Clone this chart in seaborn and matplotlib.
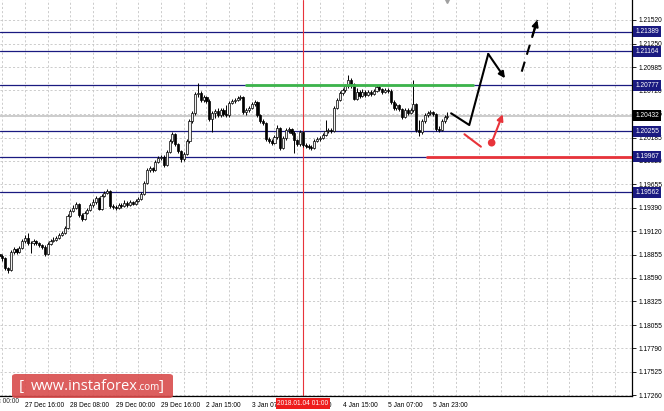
import numpy as np
import pandas as pd
import matplotlib
matplotlib.use("Agg")
import matplotlib.pyplot as plt
import seaborn as sns
from matplotlib.patches import FancyBboxPatch

# EURUSD H1 candles (bar 0 is the leftmost, half cut off)
first_open = 1.18862
closes = [1.18839,
    1.18816, 1.18703, 1.18680, 1.18884, 1.18918, 1.18884, 1.18930, 1.19009, 1.19043, 1.18987,
    1.18987, 1.19009, 1.18987, 1.18964, 1.18941, 1.18862, 1.18975, 1.19009, 1.19021, 1.19043,
    1.19077, 1.19100, 1.19157, 1.19293, 1.19350, 1.19384, 1.19430, 1.19305, 1.19259, 1.19327,
    1.19362, 1.19418, 1.19452, 1.19498, 1.19373, 1.19521, 1.19555, 1.19577, 1.19407, 1.19396,
    1.19384, 1.19418, 1.19407, 1.19441, 1.19418, 1.19452, 1.19430, 1.19464, 1.19487, 1.19543,
    1.19668, 1.19816, 1.19839, 1.19816, 1.19907, 1.19952, 1.19964, 1.19873, 1.20020, 1.20145,
    1.20225, 1.20111, 1.20032, 1.19941, 1.19998, 1.20145, 1.20373, 1.20464, 1.20679, 1.20691,
    1.20611, 1.20645, 1.20600, 1.20395, 1.20464, 1.20486, 1.20441, 1.20498, 1.20452, 1.20441,
    1.20577, 1.20600, 1.20611, 1.20634, 1.20645, 1.20475, 1.20498, 1.20520, 1.20566, 1.20588,
    1.20441, 1.20373, 1.20350, 1.20168, 1.20145, 1.20123, 1.20191, 1.20293, 1.20066, 1.20180,
    1.20270, 1.20282, 1.20236, 1.20157, 1.20111, 1.20248, 1.20100, 1.20089, 1.20077, 1.20066,
    1.20145, 1.20168, 1.20180, 1.20214, 1.20259, 1.20270, 1.20259, 1.20520, 1.20611, 1.20691,
    1.20725, 1.20770, 1.20838, 1.20793, 1.20623, 1.20702, 1.20657, 1.20702, 1.20668, 1.20702,
    1.20679, 1.20713, 1.20759, 1.20736, 1.20702, 1.20725, 1.20713, 1.20588, 1.20520, 1.20554,
    1.20509, 1.20418, 1.20498, 1.20464, 1.20498, 1.20566, 1.20270, 1.20248, 1.20373, 1.20441,
    1.20464, 1.20475, 1.20452, 1.20282, 1.20270, 1.20373, 1.20418, 1.20432]
highs = [1.18884,
    1.18862, 1.18828, 1.18714, 1.18907, 1.18941, 1.18930, 1.18953, 1.19032, 1.19077, 1.19100,
    1.19009, 1.19032, 1.19021, 1.18998, 1.18975, 1.18964, 1.18998, 1.19032, 1.19055, 1.19066,
    1.19100, 1.19123, 1.19180, 1.19316, 1.19373, 1.19418, 1.19452, 1.19441, 1.19327, 1.19350,
    1.19384, 1.19441, 1.19487, 1.19521, 1.19509, 1.19543, 1.19577, 1.19600, 1.19589, 1.19430,
    1.19418, 1.19441, 1.19441, 1.19475, 1.19464, 1.19475, 1.19464, 1.19487, 1.19509, 1.19566,
    1.19691, 1.19839, 1.19862, 1.19850, 1.19930, 1.19975, 1.19986, 1.19986, 1.20043, 1.20168,
    1.20248, 1.20236, 1.20123, 1.20043, 1.20020, 1.20168, 1.20395, 1.20486, 1.20702, 1.20804,
    1.20713, 1.20668, 1.20657, 1.20623, 1.20486, 1.20509, 1.20520, 1.20520, 1.20520, 1.20554,
    1.20600, 1.20623, 1.20634, 1.20657, 1.20668, 1.20657, 1.20520, 1.20543, 1.20588, 1.20611,
    1.20600, 1.20452, 1.20395, 1.20361, 1.20191, 1.20168, 1.20214, 1.20327, 1.20305, 1.20202,
    1.20293, 1.20305, 1.20293, 1.20259, 1.20168, 1.20270, 1.20259, 1.20123, 1.20111, 1.20100,
    1.20168, 1.20191, 1.20202, 1.20236, 1.20384, 1.20293, 1.20293, 1.20543, 1.20634, 1.20713,
    1.20748, 1.20793, 1.20895, 1.20861, 1.20804, 1.20748, 1.20725, 1.20736, 1.20725, 1.20725,
    1.20725, 1.20736, 1.20782, 1.20782, 1.20748, 1.20748, 1.20748, 1.20736, 1.20611, 1.20577,
    1.20566, 1.20520, 1.20520, 1.20520, 1.20520, 1.20838, 1.20577, 1.20384, 1.20395, 1.20464,
    1.20486, 1.20498, 1.20486, 1.20464, 1.20316, 1.20395, 1.20441, 1.20475]
lows = [1.18816,
    1.18782, 1.18680, 1.18646, 1.18669, 1.18862, 1.18862, 1.18873, 1.18918, 1.18987, 1.18964,
    1.18873, 1.18964, 1.18964, 1.18941, 1.18918, 1.18839, 1.18850, 1.18964, 1.18998, 1.19009,
    1.19032, 1.19066, 1.19089, 1.19146, 1.19282, 1.19339, 1.19373, 1.19282, 1.19236, 1.19248,
    1.19316, 1.19350, 1.19396, 1.19430, 1.19362, 1.19362, 1.19509, 1.19543, 1.19384, 1.19373,
    1.19362, 1.19373, 1.19384, 1.19396, 1.19396, 1.19407, 1.19418, 1.19418, 1.19452, 1.19475,
    1.19532, 1.19657, 1.19793, 1.19793, 1.19805, 1.19896, 1.19930, 1.19850, 1.19862, 1.20009,
    1.20123, 1.20089, 1.20009, 1.19907, 1.19918, 1.19986, 1.20123, 1.20350, 1.20441, 1.20645,
    1.20588, 1.20588, 1.20577, 1.20373, 1.20248, 1.20407, 1.20418, 1.20418, 1.20429, 1.20418,
    1.20418, 1.20566, 1.20577, 1.20600, 1.20611, 1.20452, 1.20441, 1.20475, 1.20509, 1.20543,
    1.20418, 1.20350, 1.20327, 1.20145, 1.20123, 1.20100, 1.20111, 1.20168, 1.20043, 1.20055,
    1.20157, 1.20236, 1.20214, 1.20009, 1.20089, 1.20089, 1.20077, 1.20066, 1.20055, 1.20043,
    1.20055, 1.20134, 1.20145, 1.20168, 1.20202, 1.20236, 1.20236, 1.20248, 1.20509, 1.20600,
    1.20668, 1.20702, 1.20748, 1.20748, 1.20611, 1.20611, 1.20634, 1.20645, 1.20645, 1.20657,
    1.20657, 1.20668, 1.20702, 1.20713, 1.20679, 1.20691, 1.20691, 1.20566, 1.20498, 1.20498,
    1.20486, 1.20395, 1.20407, 1.20441, 1.20452, 1.20475, 1.20248, 1.20202, 1.20225, 1.20350,
    1.20418, 1.20441, 1.20429, 1.20259, 1.20248, 1.20259, 1.20350, 1.20395]

# horizontal levels (blue), current bid
levels = [1.21389, 1.21164, 1.20777, 1.20255, 1.19967, 1.19562]
bid = 1.20432
price_ticks = [1.21520, 1.21250, 1.20985, 1.20720, 1.20455, 1.20185, 1.19920, 1.19655,
               1.19390, 1.19120, 1.18855, 1.18590, 1.18325, 1.18055, 1.17790, 1.17525, 1.17260]
price_range = (1.17249, 1.21747)
bar_range = (0.18, 223.1)

# time axis
time_ticks = [-7, 9, 25, 41, 57, 73, 89, 105, 121, 137, 153]
time_labels = ["27 Dec 00:00", "27 Dec 16:00", "28 Dec 08:00", "29 Dec 00:00", "29 Dec 16:00",
               "2 Jan 15:00", "3 Jan 07:00", "3 Jan 23:00", "4 Jan 15:00", "5 Jan 07:00",
               "5 Jan 23:00"]
cursor_bar = 107
cursor_label = "2018.01.04 01:00"

# drawn resistance / support
green_x = [86.9, 167.0]
green_y = [1.20777, 1.20777]
red_x = [150.8, 223.1]
red_y = [1.19967, 1.19967]

# forecast scenarios
main_x = [159.3, 165.7, 172.4, 178.3]
main_y = [1.20460, 1.20327, 1.21134, 1.20858]
next_x = [184.2, 189.7]
next_y = [1.20933, 1.21520]
alt_x = [164.0, 169.8]
alt_y = [1.20222, 1.20081]
alt_arrow_x = [173.6, 177.5]
alt_arrow_y = [1.20126, 1.20449]

navy = "#1a1a80"
red = "#e8333a"
fs = 4.8

sns.set_style("white")
plt.rcParams["font.family"] = ["Liberation Sans", "DejaVu Sans"]

fig = plt.figure(figsize=(6.64, 4.11), dpi=100)
ax = fig.add_axes([0, 15 / 411, 632 / 664, 396 / 411])
ax.set_xlim(*bar_range)
ax.set_ylim(*price_range)

df = pd.DataFrame({"close": closes, "high": highs, "low": lows})
df["open"] = df["close"].shift(1).fillna(first_open)
df["bar"] = np.arange(len(df))
up = df["close"] >= df["open"]

# grid
for p in price_ticks:
    ax.axhline(p, color="#c4c4c4", lw=0.6, dashes=(2.5, 2.5), zorder=0)
for b in np.arange(1, 224, 8):
    ax.axvline(b, color="#c4c4c4", lw=0.6, dashes=(2.5, 2.5), zorder=0)

for lv in levels:
    ax.axhline(lv, color=navy, lw=0.9, zorder=1)
ax.axhline(bid, color="#c8c8c8", lw=1.3, zorder=1)
ax.axvline(cursor_bar, color=red, lw=0.8, zorder=2)

# candles
ax.vlines(df["bar"], df["low"], df["high"], color="black", lw=0.7, zorder=3)
ax.bar(df["bar"][up], (df["close"] - df["open"])[up], bottom=df["open"][up], width=0.75,
       color="#f0f0f0", edgecolor="black", lw=0.5, zorder=4)
ax.bar(df["bar"][~up], (df["close"] - df["open"])[~up], bottom=df["open"][~up], width=0.75,
       color="black", edgecolor="black", lw=0.5, zorder=4)

# levels drawn by the analyst
sns.lineplot(x=green_x, y=green_y, color="#3cb44b", lw=2.0, ax=ax, zorder=5)
sns.lineplot(x=red_x, y=red_y, color=red, lw=2.0, ax=ax, zorder=5)

# main scenario
sns.lineplot(x=main_x[:3], y=main_y[:3], color="black", lw=1.5, ax=ax, sort=False, zorder=6)
ax.annotate("", xy=(main_x[3], main_y[3]), xytext=(main_x[2], main_y[2]),
            arrowprops=dict(arrowstyle="-|>", color="black", lw=1.5, mutation_scale=9,
                            shrinkA=0, shrinkB=0), zorder=6)
sns.lineplot(x=next_x, y=next_y, color="black", lw=1.5, ax=ax, zorder=6)
ax.lines[-1].set_dashes((5, 3.5))
hx = next_x[1] - 0.3 * (next_x[1] - next_x[0])
hy = next_y[1] - 0.3 * (next_y[1] - next_y[0])
ax.annotate("", xy=(next_x[1], next_y[1]), xytext=(hx, hy),
            arrowprops=dict(arrowstyle="-|>", color="black", lw=1.5, mutation_scale=9,
                            shrinkA=0, shrinkB=0), zorder=6)

# alternative scenario
sns.lineplot(x=alt_x, y=alt_y, color=red, lw=1.5, ax=ax, zorder=6)
sns.scatterplot(x=alt_arrow_x[:1], y=alt_arrow_y[:1], color=red, s=30, edgecolor="none",
                ax=ax, zorder=7)
ax.annotate("", xy=(alt_arrow_x[1], alt_arrow_y[1]), xytext=(alt_arrow_x[0], alt_arrow_y[0]),
            arrowprops=dict(arrowstyle="-|>", color=red, lw=1.5, mutation_scale=9,
                            shrinkA=0, shrinkB=0), zorder=6)

# chart shift marker
ax.plot([df["bar"].iloc[-1]], [price_range[1]], marker="v", color="#a0a0a0", ms=4,
        clip_on=False, zorder=8)

# axes
for s in ["top", "left"]:
    ax.spines[s].set_visible(False)
for s in ["right", "bottom"]:
    ax.spines[s].set_color("black")
    ax.spines[s].set_linewidth(0.9)
ax.yaxis.tick_right()
ax.set_yticks(price_ticks)
ax.set_yticklabels([f"{p:.5f}" for p in price_ticks])
ax.tick_params(axis="y", length=3, width=0.6, pad=1.5, labelsize=fs, colors="black")
ax.set_xticks(time_ticks[1:])
ax.set_xticklabels(time_labels[1:], ha="left")
ax.tick_params(axis="x", length=3, width=0.6, pad=1.5, labelsize=fs, colors="black")
ax.text(time_ticks[0], -0.006, time_labels[0], transform=ax.get_xaxis_transform(),
        ha="left", va="top", fontsize=fs, clip_on=False)

# price labels on the right
for lv in levels:
    ax.annotate(f"{lv:.5f}", xy=(1, lv), xycoords=ax.get_yaxis_transform(),
                xytext=(2.5, 0), textcoords="offset points", ha="left", va="center",
                color="white", fontsize=fs, annotation_clip=False, zorder=10,
                bbox=dict(boxstyle="square,pad=0.3", fc=navy, ec="none"))
ax.annotate(f"{bid:.5f}", xy=(1, bid), xycoords=ax.get_yaxis_transform(),
            xytext=(2.5, 0), textcoords="offset points", ha="left", va="center",
            color="white", fontsize=fs, annotation_clip=False, zorder=10,
            bbox=dict(boxstyle="square,pad=0.3", fc="black", ec="none"))

# cursor time label
ax.annotate(cursor_label, xy=(cursor_bar, 0), xycoords=ax.get_xaxis_transform(),
            xytext=(0, -5.3), textcoords="offset points", ha="center", va="center",
            color="white", fontsize=fs, annotation_clip=False, zorder=10,
            bbox=dict(boxstyle="square,pad=0.25", fc="#ee1c1c", ec="none"))

# watermark
fig.add_artist(FancyBboxPatch((12 / 664, 13 / 411), 161 / 664, 24 / 411,
                              boxstyle="round,pad=0,rounding_size=0.006",
                              transform=fig.transFigure, fc="#d94c4c", ec="none",
                              alpha=0.9, zorder=20))
wm = dict(color="white", va="center", zorder=21, family=["Open Sans", "DejaVu Sans"])
fig.text(19 / 664, 25 / 411, "[", fontsize=11, ha="left", **wm)
fig.text(31 / 664, 25 / 411, "www.instaforex", fontsize=10.5, ha="left", **wm)
fig.text(137 / 664, 24 / 411, ".com", fontsize=7, ha="left", **wm)
fig.text(164 / 664, 25 / 411, "]", fontsize=11, ha="right", **wm)

fig.savefig("out.png", dpi=100)
